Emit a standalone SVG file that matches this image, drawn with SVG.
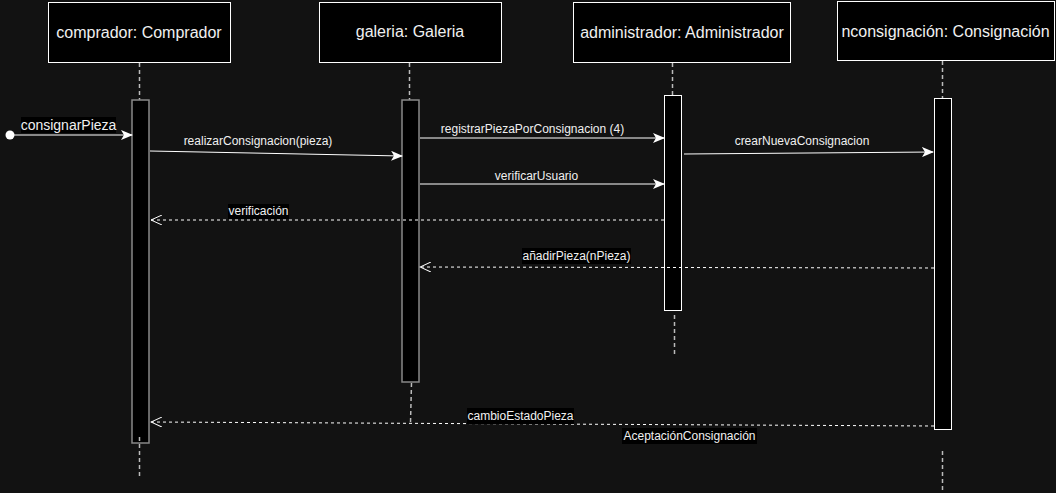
<svg xmlns="http://www.w3.org/2000/svg" width="1056" height="493" viewBox="0 0 1056 493">
<defs>
<style>
.hdr{fill:#000;stroke:#fff;stroke-width:1}
.ht{font-family:"Liberation Sans",Arial,sans-serif;font-size:16px;fill:#f0f0f0;text-anchor:middle}
.lt{font-family:"Liberation Sans",Arial,sans-serif;font-size:12px;fill:#f0f0f0;text-anchor:middle}
.act{fill:#000;stroke:#888;stroke-width:1.5}
.actw{fill:#000;stroke:#fff;stroke-width:1}
.life{stroke:#bbb;stroke-width:1.5;stroke-dasharray:4 3;fill:none}
.msg{stroke:#fff;stroke-width:1;fill:none;marker-end:url(#block)}
.ret{stroke:#fff;stroke-width:1;fill:none;stroke-dasharray:3 3;marker-end:url(#open)}
.lbg{fill:#000}
</style>
<marker id="block" viewBox="0 0 12 10" refX="11" refY="5" markerWidth="12" markerHeight="10" markerUnits="userSpaceOnUse" orient="auto">
<path d="M0,0 L12,5 L0,10 L3,5 Z" fill="#fff"/>
</marker>
<marker id="open" viewBox="0 0 12 10" refX="11" refY="5" markerWidth="12" markerHeight="10" markerUnits="userSpaceOnUse" orient="auto">
<path d="M0,0 L11,5 L0,10" fill="none" stroke="#fff" stroke-width="1"/>
</marker>
</defs>
<rect width="1056" height="493" fill="#121212"/>

<g id="comprador">
<rect class="hdr" x="48.5" y="2.5" width="182" height="60"/>
<text class="ht" x="139" y="38">comprador: Comprador</text>
<line class="life" x1="139.5" y1="63" x2="139.5" y2="100"/>
<rect class="act" x="132" y="100" width="17" height="343"/>
<line class="life" x1="139.5" y1="437" x2="139.5" y2="478"/>
</g>

<g id="galeria">
<rect class="hdr" x="319.5" y="2.5" width="182" height="60"/>
<text class="ht" x="410" y="37">galeria: Galeria</text>
<line class="life" x1="409.5" y1="63" x2="409.5" y2="100"/>
<rect class="act" x="402" y="100" width="17" height="282"/>
<line class="life" x1="411.5" y1="383" x2="410.5" y2="423"/>
</g>

<g id="administrador">
<rect class="hdr" x="573.5" y="2.5" width="217" height="60"/>
<text class="ht" x="682" y="38">administrador: Administrador</text>
<line class="life" x1="672.5" y1="63" x2="672.5" y2="95"/>
<rect class="actw" x="664.5" y="95.5" width="17" height="215"/>
<line class="life" x1="674.5" y1="315" x2="674.5" y2="355"/>
</g>

<g id="nconsignacion">
<rect class="hdr" x="837.5" y="1.5" width="217" height="59"/>
<text class="ht" x="945.5" y="37">nconsignación: Consignación</text>
<line class="life" x1="942.5" y1="61" x2="942.5" y2="98"/>
<rect class="actw" x="934.5" y="98.5" width="17" height="331"/>
<line class="life" x1="942.5" y1="451" x2="942.5" y2="493"/>
</g>

<g id="connectors">
<circle cx="10" cy="135" r="4.5" fill="#fff"/>
<line class="msg" x1="10" y1="135" x2="132" y2="135"/>
<rect class="lbg" x="21" y="117" width="95" height="16"/>
<text class="lt" x="68.5" y="130" style="font-size:14px">consignarPieza</text>

<line class="msg" x1="150" y1="151" x2="402" y2="156"/>
<text class="lt" x="258" y="145">realizarConsignacion(pieza)</text>

<line class="msg" x1="420" y1="138" x2="664" y2="138"/>
<text class="lt" x="532.5" y="133">registrarPiezaPorConsignacion (4)</text>

<line class="msg" x1="684" y1="154" x2="933" y2="152"/>
<text class="lt" x="802" y="145">crearNuevaConsignacion</text>

<line class="msg" x1="420" y1="184" x2="664" y2="184"/>
<text class="lt" x="536.5" y="180">verificarUsuario</text>

<line class="ret" x1="664" y1="220" x2="151" y2="220"/>
<rect class="lbg" x="228" y="204" width="61" height="15"/>
<text class="lt" x="258.5" y="215">verificación</text>

<line class="ret" x1="934" y1="268" x2="420" y2="267"/>
<rect class="lbg" x="522" y="248" width="109" height="16"/>
<text class="lt" x="576.5" y="260">añadirPieza(nPieza)</text>

<line class="ret" x1="934" y1="426" x2="151" y2="422"/>
<rect class="lbg" x="467" y="408" width="107" height="16"/>
<text class="lt" x="520.5" y="420">cambioEstadoPieza</text>
<rect class="lbg" x="622" y="428" width="135" height="16"/>
<text class="lt" x="689.5" y="440">AceptaciónConsignación</text>
</g>
</svg>
